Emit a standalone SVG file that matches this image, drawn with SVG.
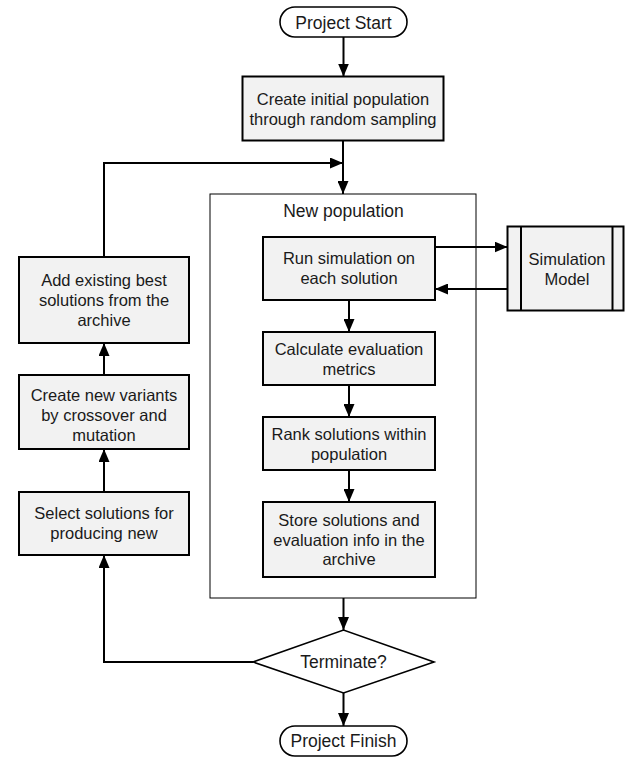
<svg xmlns="http://www.w3.org/2000/svg" width="625" height="758" viewBox="0 0 625 758">
<defs>
<marker id="arr" viewBox="0 0 13 11" refX="13" refY="5.5" markerWidth="13" markerHeight="11" markerUnits="userSpaceOnUse" orient="auto">
<path d="M0,0 L13,5.5 L0,11 Z" fill="#000"/>
</marker>
<style>
.box{fill:#f2f2f2;stroke:#000;stroke-width:2}
.term{fill:#fff;stroke:#000;stroke-width:1.6}
.cont{fill:#fff;stroke:#000;stroke-width:1}
.t{font-family:"Liberation Sans",Arial,sans-serif;font-size:16.5px;fill:#1a1a1a;text-anchor:middle}
.tl{font-family:"Liberation Sans",Arial,sans-serif;font-size:17.5px;fill:#1a1a1a;text-anchor:middle}
.c{fill:none;stroke:#000;stroke-width:2;marker-end:url(#arr)}
</style>
</defs>
<rect width="625" height="758" fill="#fff"/>
<g id="container">
<rect class="cont" x="210" y="194" width="266" height="404"/>
<text class="tl" x="343.5" y="217">New population</text>
</g>
<g id="start">
<rect class="term" x="280" y="7" width="127" height="30" rx="15"/>
<text class="tl" x="343.5" y="28.5">Project Start</text>
</g>
<g id="create-initial">
<rect class="box" x="242.5" y="76.5" width="201" height="64"/>
<text class="t" x="343" y="104.5">Create initial population</text>
<text class="t" x="343" y="124.5">through random sampling</text>
</g>
<g id="run-sim">
<rect class="box" x="263" y="237" width="172" height="63"/>
<text class="t" x="349" y="264">Run simulation on</text>
<text class="t" x="349" y="284">each solution</text>
</g>
<g id="sim-model">
<rect class="box" x="507.5" y="226.5" width="116" height="84"/>
<line x1="521" y1="226.5" x2="521" y2="310.5" stroke="#000" stroke-width="2"/>
<line x1="612.5" y1="226.5" x2="612.5" y2="310.5" stroke="#000" stroke-width="2"/>
<text class="t" x="567" y="264.5">Simulation</text>
<text class="t" x="567" y="284.5">Model</text>
</g>
<g id="calc">
<rect class="box" x="263" y="332" width="172" height="53"/>
<text class="t" x="349" y="354.5">Calculate evaluation</text>
<text class="t" x="349" y="374.5">metrics</text>
</g>
<g id="rank">
<rect class="box" x="263" y="417" width="172" height="53"/>
<text class="t" x="349" y="439.5">Rank solutions within</text>
<text class="t" x="349" y="459.5">population</text>
</g>
<g id="store">
<rect class="box" x="263" y="502" width="172" height="75"/>
<text class="t" x="349" y="526">Store solutions and</text>
<text class="t" x="349" y="545.5">evaluation info in the</text>
<text class="t" x="349" y="565">archive</text>
</g>
<g id="add-existing">
<rect class="box" x="19" y="257" width="170" height="86"/>
<text class="t" x="104" y="286">Add existing best</text>
<text class="t" x="104" y="306">solutions from the</text>
<text class="t" x="104" y="326">archive</text>
</g>
<g id="create-variants">
<rect class="box" x="19" y="375" width="170" height="74"/>
<text class="t" x="104" y="400.5">Create new variants</text>
<text class="t" x="104" y="420.5">by crossover and</text>
<text class="t" x="104" y="440.5">mutation</text>
</g>
<g id="select">
<rect class="box" x="19" y="492" width="170" height="63"/>
<text class="t" x="104" y="518.5">Select solutions for</text>
<text class="t" x="104" y="538.5">producing new</text>
</g>
<g id="terminate">
<polygon class="term" points="253,662 343.5,630 434,662 343.5,693"/>
<text class="tl" x="343.5" y="667.5">Terminate?</text>
</g>
<g id="finish">
<rect class="term" x="280" y="726" width="127" height="30" rx="15"/>
<text class="tl" x="343.5" y="747">Project Finish</text>
</g>
<g id="connectors">
<path class="c" d="M343.5,37 V76.5"/>
<path class="c" d="M343,140.5 V194"/>
<path class="c" d="M104,257 V163 H343"/>
<path class="c" d="M435,247 H507.5"/>
<path class="c" d="M507.5,289 H435"/>
<path class="c" d="M349,300 V332"/>
<path class="c" d="M349,385 V417"/>
<path class="c" d="M349,470 V502"/>
<path class="c" d="M343.5,598 V630"/>
<path class="c" d="M343.5,693 V726"/>
<path class="c" d="M253,662 H104 V555"/>
<path class="c" d="M104,492 V449"/>
<path class="c" d="M104,375 V343"/>
</g>
</svg>
